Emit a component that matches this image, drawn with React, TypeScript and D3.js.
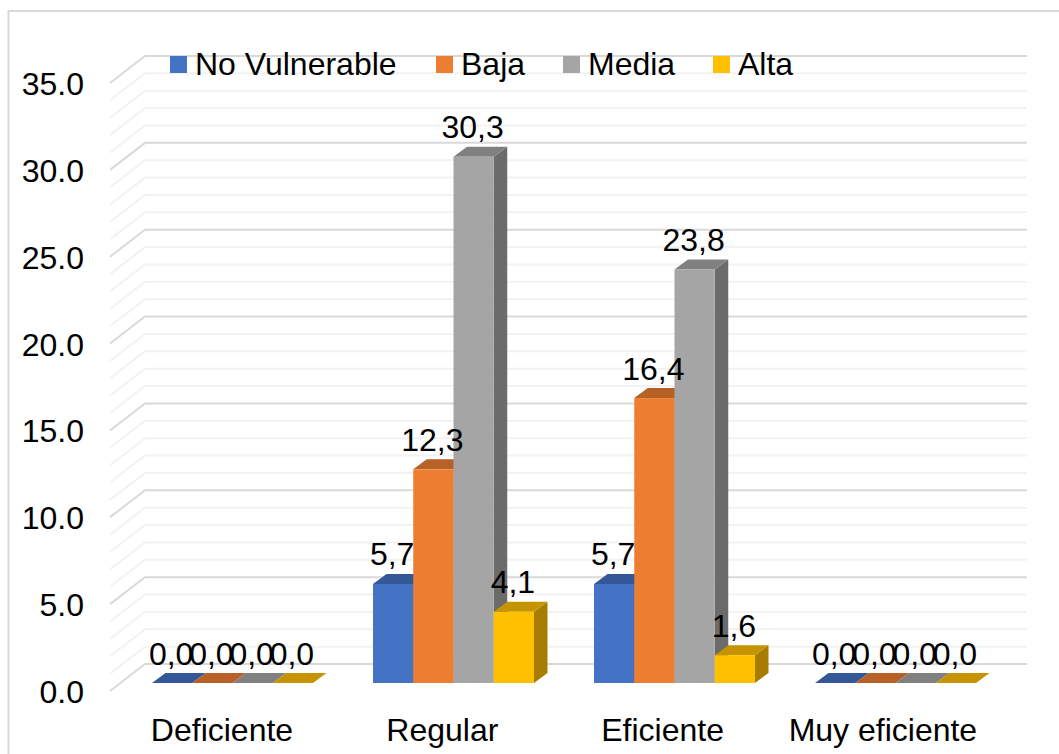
import * as d3 from 'd3';

const categories = ['Deficiente', 'Regular', 'Eficiente', 'Muy eficiente'];
const seriesNames = ['No Vulnerable', 'Baja', 'Media', 'Alta'];

const noVulnerable = [0, 5.7, 5.7, 0];
const baja = [0, 12.3, 16.4, 0];
const media = [0, 30.3, 23.8, 0];
const alta = [0, 4.1, 1.6, 0];
const seriesValues = [noVulnerable, baja, media, alta];

const yTicks = [0, 5, 10, 15, 20, 25, 30, 35];
const minorTicks = d3.range(0, 36);

const frontColors = ['#4472c4', '#ed7d31', '#a5a5a5', '#ffc000'];
const topColors = ['#345897', '#b76126', '#808080', '#c59400'];
const sideColors = ['#2b4a80', '#9c5220', '#6b6b6b', '#a67d00'];
const legendX = [170, 436, 563, 713];

const font = '"Liberation Sans", Arial, sans-serif';
const fontSize = 32;

export default function App() {
  const width = 1059;
  const height = 754;

  // front edge of the wall vs. front edge of the bars
  const y = d3.scaleLinear().domain([0, 35]).range([691, 83]);
  const barY = d3.scaleLinear().domain([0, 35]).range([683, 75]);

  const x0 = d3.scaleBand().domain(categories).range([122, 1006]).paddingInner(60 / 221).paddingOuter(30 / 221);
  const x1 = d3.scaleBand().domain(seriesNames).range([0, x0.bandwidth()]);

  const wallX = 110;
  const backX = 145;
  const backRight = 1027;
  const wallDepth = 27;
  const barDx = 13.5;
  const barDy = 10;

  return (
    <svg
      width={width}
      height={height}
      style={{ position: 'absolute', left: 0, top: 0, display: 'block', background: '#fff' }}
      fontFamily={font}
    >
      {/* chart frame runs off the right and bottom of the picture */}
      <rect x={8.5} y={11} width={1070} height={770} fill="#fff" stroke="#d9d9d9" strokeWidth={2} />

      {/* grid on the back and side walls */}
      {minorTicks.map((t) => {
        const major = t % 5 === 0;
        return (
          <path
            key={t}
            d={`M${wallX},${y(t)}L${backX},${y(t) - wallDepth}H${backRight}`}
            fill="none"
            stroke={major ? '#d9d9d9' : '#f2f2f2'}
            strokeWidth={2}
          />
        );
      })}

      {/* bars */}
      {categories.map((cat, c) => (
        <g key={cat}>
          {seriesNames.map((name, s) => {
            const v = seriesValues[s][c];
            const left = (x0(cat) ?? 0) + (x1(name) ?? 0);
            const right = left + x1.bandwidth();
            const top = barY(v);
            const base = barY(0);
            return (
              <g key={name}>
                <path
                  d={`M${right},${top}L${right + barDx},${top - barDy}V${base - barDy}L${right},${base}Z`}
                  fill={sideColors[s]}
                />
                <path
                  d={`M${left},${top}L${left + barDx},${top - barDy}H${right + barDx}L${right},${top}Z`}
                  fill={topColors[s]}
                />
                <rect x={left} y={top} width={x1.bandwidth()} height={base - top} fill={frontColors[s]} />
              </g>
            );
          })}
        </g>
      ))}

      {/* data labels */}
      {categories.map((cat, c) =>
        seriesNames.map((name, s) => {
          const v = seriesValues[s][c];
          return (
            <text
              key={cat + name}
              x={(x0(cat) ?? 0) + (x1(name) ?? 0) + x1.bandwidth() / 2 - 1}
              y={barY(v) - 18.5}
              textAnchor="middle"
              fontSize={fontSize}
              fill="#000"
            >
              {v.toFixed(1).replace('.', ',')}
            </text>
          );
        })
      )}

      {/* y axis */}
      {yTicks.map((t) => (
        <text key={t} x={84} y={y(t) + 12} textAnchor="end" fontSize={fontSize} fill="#000">
          {t.toFixed(1)}
        </text>
      ))}

      {/* category labels */}
      {categories.map((cat, c) => (
        <text
          key={cat}
          x={(x0(cat) ?? 0) + x0.bandwidth() / 2 - 10.5 - c * 0.7}
          y={741}
          textAnchor="middle"
          fontSize={fontSize}
          fill="#000"
        >
          {cat}
        </text>
      ))}

      {/* legend */}
      {seriesNames.map((name, s) => (
        <g key={name}>
          <rect x={legendX[s]} y={56} width={17} height={17} fill={frontColors[s]} />
          <text x={legendX[s] + 25} y={75} fontSize={fontSize} fill="#000">
            {name}
          </text>
        </g>
      ))}
    </svg>
  );
}
